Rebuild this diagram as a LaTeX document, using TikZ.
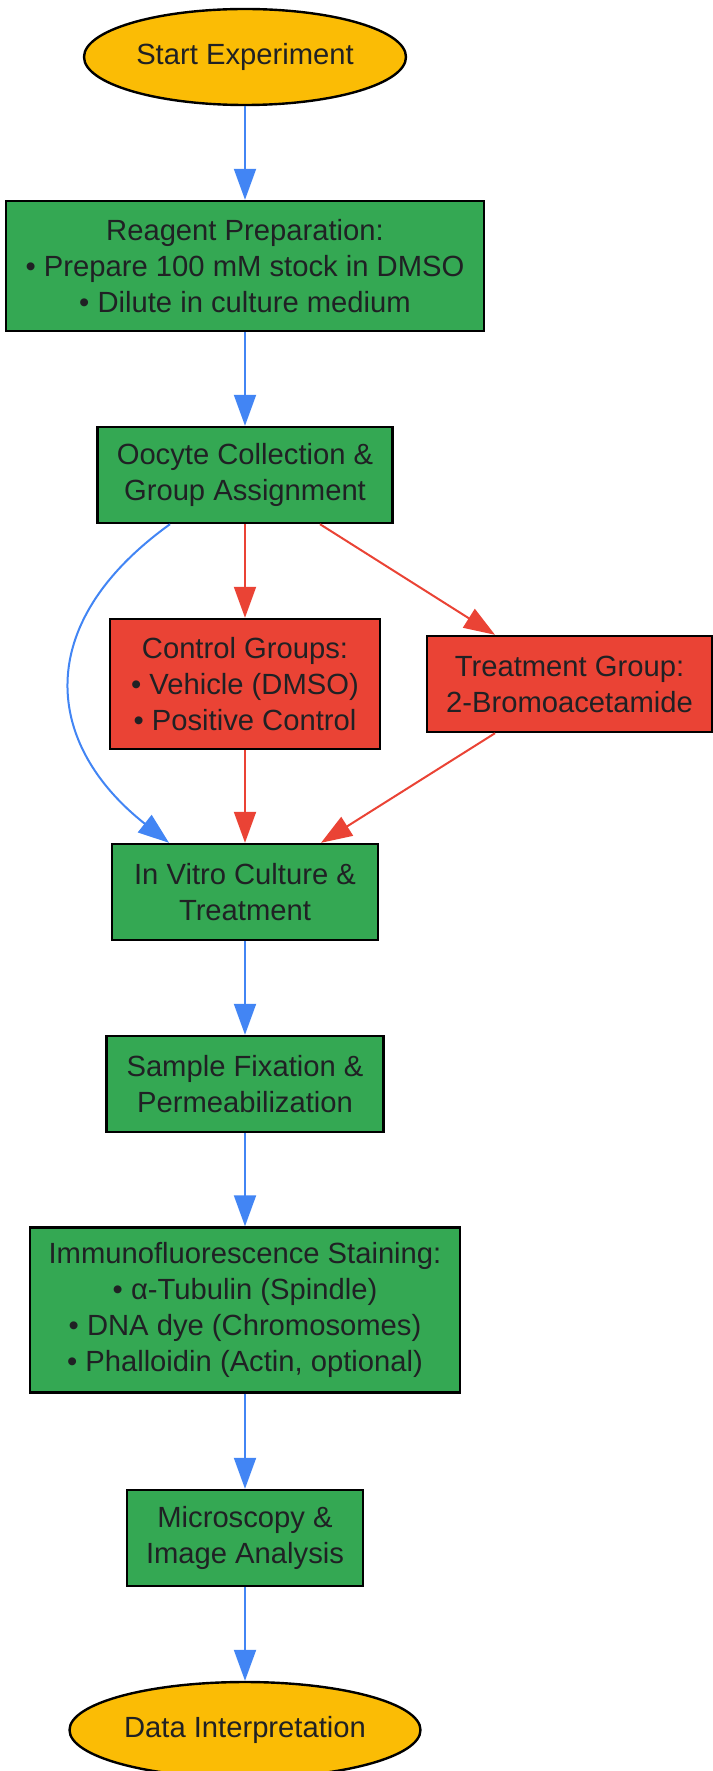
\documentclass[tikz,border=0pt]{standalone}
\usepackage{fontspec}
\setmainfont{Liberation Sans}
\usetikzlibrary{shapes.geometric, arrows.meta}
\definecolor{boxgreen}{HTML}{34A853}
\definecolor{boxred}{HTML}{EA4335}
\definecolor{termyellow}{HTML}{FBBC05}
\definecolor{flowblue}{HTML}{4285F4}
\definecolor{inkgray}{HTML}{202124}
\tikzset{
   base/.style={draw=black, line width=1.2pt, inner sep=0pt, align=center,
      text=inkgray, font=\fontsize{14.6}{18}\selectfont},
   term/.style={base, ellipse, fill=termyellow},
   stage/.style={base, rectangle, fill=boxgreen},
   group/.style={base, rectangle, fill=boxred},
   flow/.style={draw=flowblue, line width=1pt, -{Triangle[length=15.5pt,width=11pt]}},
   branch/.style={flow, draw=boxred},
}
\begin{document}
\begin{tikzpicture}[x=0.5pt, y=-0.5pt]
      \useasboundingbox (0,0) rectangle (712,1771);
      \def \Vertices {
         start/245/57/161/48/term/{Start Experiment},
         reagent/245/266/239/65/stage/{Reagent Preparation:\\• Prepare 100 mM stock in DMSO\\• Dilute in culture medium},
         oocyte/245/475/147.5/48/stage/{Oocyte Collection \&\\Group Assignment},
         control/245/684/135/65/group/{Control Groups:\\• Vehicle (DMSO)\\• Positive Control},
         treatment/569.5/684/142.5/48/group/{Treatment Group:\\2-Bromoacetamide},
         invitro/245/892/133/48/stage/{In Vitro Culture \&\\Treatment},
         fixation/245/1084/138.5/48/stage/{Sample Fixation \&\\Permeabilization},
         immuno/245/1310/215/82.5/stage/{Immunofluorescence Staining:\\• α-Tubulin (Spindle)\\• DNA dye (Chromosomes)\\• Phalloidin (Actin, optional)},
         micro/245/1538/118/48/stage/{Microscopy \&\\Image Analysis},
         data/245/1730/175.5/48/term/{Data Interpretation}}
      \def \Edges {
         start/reagent, reagent/oocyte, invitro/fixation,
         fixation/immuno, immuno/micro, micro/data}
      \foreach \u / \x / \y / \w / \h / \s / \t in \Vertices {
         \node[\s, minimum width=\w pt, minimum height=\h pt] (\u) at (\x, \y) {\t};
      }
      \foreach \u / \v in \Edges {
         \path[flow] (\u) -- (\v);
      }
      \path[branch] (oocyte) -- (control);
      \path[branch] (control) -- (invitro);
      \path[branch] ([xshift=37.5pt]oocyte.south) -- ([xshift=-37.25pt]treatment.north);
      \path[branch] ([xshift=-37.25pt]treatment.south) -- ([xshift=38pt]invitro.north);
      \path[flow] ([xshift=-37.5pt]oocyte.south) .. controls (30,625) and (45,745) .. ([xshift=-38pt]invitro.north);
   \end{tikzpicture}
\end{document}
